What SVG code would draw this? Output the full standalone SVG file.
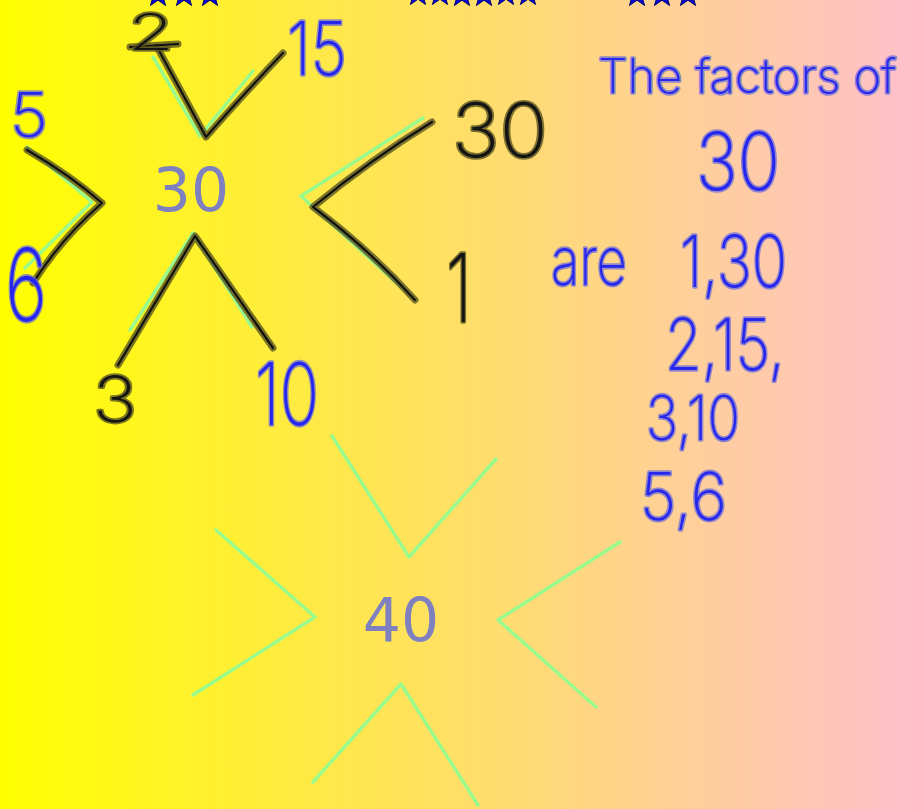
<svg xmlns="http://www.w3.org/2000/svg" width="912" height="809" viewBox="0 0 912 809">
<defs>
<linearGradient id="bg" x1="0" y1="0" x2="1" y2="0">
<stop offset="0" stop-color="#ffff00"/>
<stop offset="1" stop-color="#ffc0cb"/>
</linearGradient>
<polygon id="star" points="0,-13 3.1,-4.2 12.4,-4 4.9,1.6 7.6,10.5 0,5.2 -7.6,10.5 -4.9,1.6 -12.4,-4 -3.1,-4.2"/>
</defs>
<style>
.guide{fill:none;stroke:#99fb8c;stroke-width:3.5;stroke-linecap:round;stroke-linejoin:round}
.inkhalo{fill:none;stroke:#5a5520;stroke-opacity:0.8;stroke-width:7;stroke-linecap:round;stroke-linejoin:round}
.ink{fill:none;stroke:#111;stroke-width:2.2;stroke-linecap:round;stroke-linejoin:round}
.center{font-family:"DejaVu Sans",sans-serif;font-size:60px;fill:#7f80c0;text-anchor:middle}
.hb{font-family:"Inter","Open Sans","Liberation Sans",sans-serif;font-weight:200;fill:#2626ee;stroke:#6f6fd8;stroke-opacity:0.75;stroke-width:3.5;paint-order:stroke;stroke-linejoin:round}
.hk{font-family:"Inter","Open Sans","Liberation Sans",sans-serif;font-weight:200;fill:#141414;stroke:#5a5520;stroke-opacity:0.8;stroke-width:3.5;paint-order:stroke;stroke-linejoin:round}
.star{fill:#0a0ad0;stroke:#000070;stroke-width:1}
</style>
<rect x="0" y="0" width="912" height="809" fill="url(#bg)"/>
<g id="stars">
<use href="#star" class="star" x="158" y="-5"/>
<use href="#star" class="star" x="184" y="-5"/>
<use href="#star" class="star" x="210" y="-5"/>
<use href="#star" class="star" x="418" y="-6"/>
<use href="#star" class="star" x="440" y="-6"/>
<use href="#star" class="star" x="462" y="-5"/>
<use href="#star" class="star" x="484" y="-5"/>
<use href="#star" class="star" x="506" y="-6"/>
<use href="#star" class="star" x="528" y="-6"/>
<use href="#star" class="star" x="637" y="-5"/>
<use href="#star" class="star" x="662" y="-5"/>
<use href="#star" class="star" x="688" y="-5"/>
</g>
<g id="connectors">
<polyline class="guide" points="153,57 200,136 253,71"/>
<polyline class="guide" points="27,147 92,202 25,268"/>
<polyline class="guide" points="423,118 301,196 402,288"/>
<polyline class="guide" points="130,330 193,233 252,327"/>
<polyline class="guide" points="332,436 409,557 496,459"/>
<polyline class="guide" points="216,530 315,617 193,695"/>
<polyline class="guide" points="620,542 498,620 596,707"/>
<polyline class="guide" points="313,782 401,684 478,805"/>
<path class="inkhalo" d="M157,47 L206,137 Q240,98 283,53"/>
<path class="ink" d="M157,47 L206,137 Q240,98 283,53"/>
<path class="inkhalo" d="M27,150 Q70,175 102,203 Q60,240 33,283"/>
<path class="ink" d="M27,150 Q70,175 102,203 Q60,240 33,283"/>
<path class="inkhalo" d="M432,122 Q370,160 313,207 Q370,250 415,300"/>
<path class="ink" d="M432,122 Q370,160 313,207 Q370,250 415,300"/>
<path class="inkhalo" d="M118,365 Q160,295 195,236 L273,348"/>
<path class="ink" d="M118,365 Q160,295 195,236 L273,348"/>
<path class="inkhalo" d="M130,47 L178,44"/>
<path class="ink" d="M130,47 L178,44"/>
</g>
<g id="node-30"><text class="center" x="191" y="211">30</text></g>
<g id="node-40"><text class="center" x="401" y="641">40</text></g>
<g id="label-2"><text class="hk" x="128" y="50" font-size="50" textLength="46" lengthAdjust="spacingAndGlyphs">2</text></g>
<g id="label-15"><text class="hb" x="287" y="75" font-size="74" textLength="60" lengthAdjust="spacingAndGlyphs">15</text></g>
<g id="label-5"><text class="hb" x="10" y="137" font-size="62" textLength="38" lengthAdjust="spacingAndGlyphs">5</text></g>
<g id="label-6"><text class="hb" x="5" y="321" font-size="100" textLength="42" lengthAdjust="spacingAndGlyphs">6</text></g>
<g id="label-30"><text class="hk" x="452" y="157" font-size="75" textLength="96" lengthAdjust="spacingAndGlyphs">30</text></g>
<g id="label-1"><text class="hk" x="446" y="322" font-size="95" textLength="26" lengthAdjust="spacingAndGlyphs">1</text></g>
<g id="label-3"><text class="hk" x="93" y="422" font-size="64" textLength="44" lengthAdjust="spacingAndGlyphs">3</text></g>
<g id="label-10"><text class="hb" x="255" y="425" font-size="86" textLength="64" lengthAdjust="spacingAndGlyphs">10</text></g>
<g id="note">
<text class="hb" x="598" y="93" font-size="48" textLength="298" lengthAdjust="spacingAndGlyphs">The factors of</text>
<text class="hb" x="696" y="190" font-size="80" textLength="84" lengthAdjust="spacingAndGlyphs">30</text>
<text class="hb" x="551" y="285" font-size="67" textLength="76" lengthAdjust="spacingAndGlyphs">are</text>
<text class="hb" x="680" y="287" font-size="72" textLength="107" lengthAdjust="spacingAndGlyphs">1,30</text>
<text class="hb" x="665" y="370" font-size="72" textLength="120" lengthAdjust="spacingAndGlyphs">2,15,</text>
<text class="hb" x="646" y="440" font-size="62" textLength="94" lengthAdjust="spacingAndGlyphs">3,10</text>
<text class="hb" x="640" y="520" font-size="66" textLength="87" lengthAdjust="spacingAndGlyphs">5,6</text>
</g>
</svg>
